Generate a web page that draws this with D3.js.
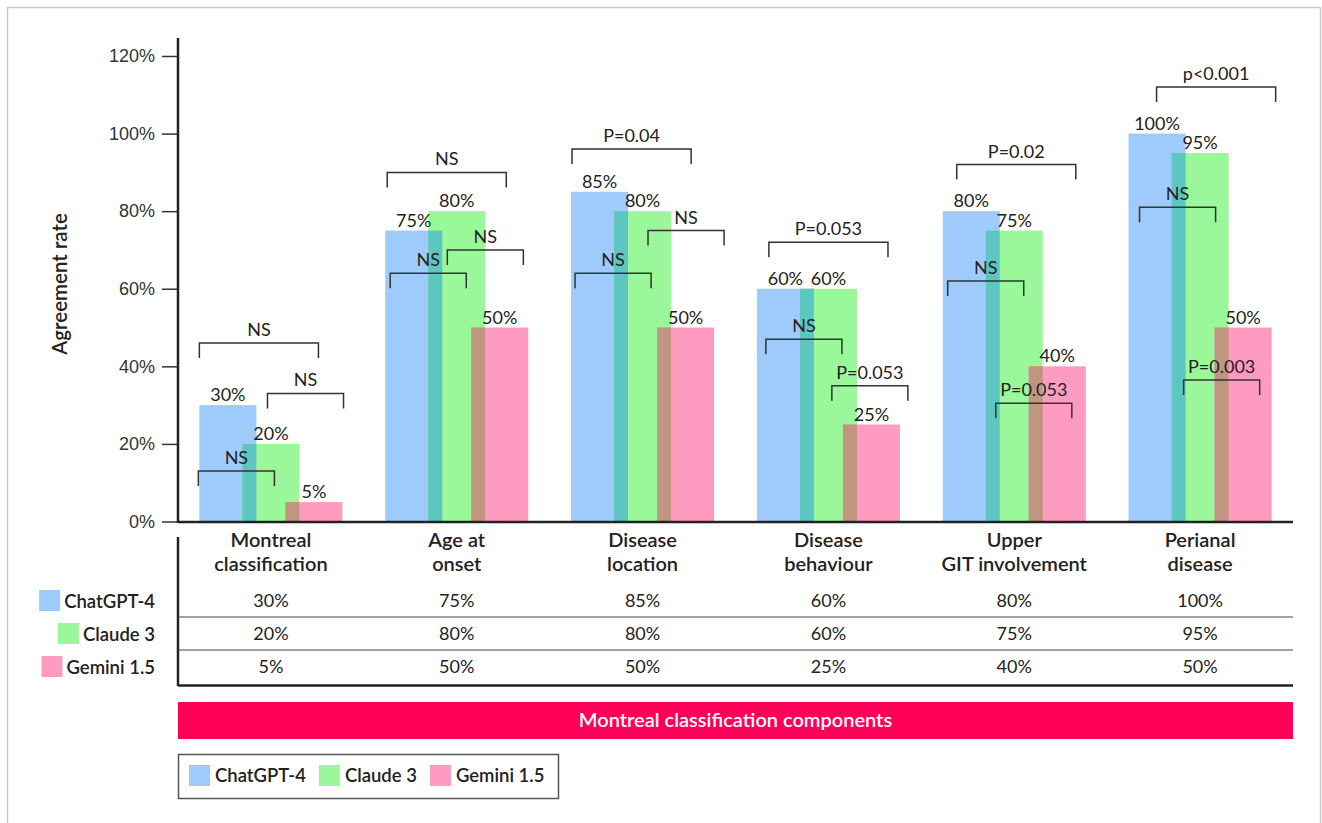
<!DOCTYPE html>
<html>
<head>
<meta charset="utf-8">
<script src="https://cdn.jsdelivr.net/npm/d3@7"></script>
<style>
  body { margin: 0; background: #fff; }
  svg { font-family: "Source Sans Pro", Lato, "Noto Sans", sans-serif; }
</style>
</head>
<body>
<script>
// chart data
const categories = [
  ['Montreal', 'classification'],
  ['Age at', 'onset'],
  ['Disease', 'location'],
  ['Disease', 'behaviour'],
  ['Upper', 'GIT involvement'],
  ['Perianal', 'disease']
];
const models = ['ChatGPT-4', 'Claude 3', 'Gemini 1.5'];
const chatgpt = [30, 75, 85, 60, 80, 100];
const claude = [20, 80, 80, 60, 75, 95];
const gemini = [5, 50, 50, 25, 40, 50];
const yTicks = [0, 20, 40, 60, 80, 100, 120];

// significance tests per component
const testGptGemini = ['NS', 'NS', 'P=0.04', 'P=0.053', 'P=0.02', 'p<0.001'];
const testGptClaude = ['NS', 'NS', 'NS', 'NS', 'NS', 'NS'];
const testClaudeGemini = ['NS', 'NS', 'NS', 'P=0.053', 'P=0.053', 'P=0.003'];
// bracket heights, in agreement-rate units
const levelGptGemini = [46, 90, 96, 72, 92, 112];
const levelGptClaude = [13, 64, 64, 47, 62, 81];
const levelClaudeGemini = [33, 70, 75, 35, 30.5, 36.5];
// where each bracket starts inside its group (0 = group left, 1 = group right)
const startGptGemini = [0, 0.014, 0.007, 0.084, 0.098, 0.196];
const startGptClaude = [-0.007, 0.035, 0.028, 0.063, 0.035, 0.077];
const startClaudeGemini = [0.476, 0.434, 0.538, 0.524, 0.371, 0.385];

const colors = ['#9ecbfb', '#9af79a', '#ff9bc0'];
const overlapColors = ['#5ec6c1', '#c09680'];
const ink = '#222';

const width = 1322;
const height = 823;
const left = 178;
const right = 1293;
const baseY = 522;
const topY = 56;

const svg = d3.select('body')
  .append('svg')
  .attr('width', width)
  .attr('height', height);

// outer frame
svg.append('rect')
  .attr('x', 7.5).attr('y', 7.5)
  .attr('width', 1313).attr('height', 830)
  .attr('fill', 'none')
  .attr('stroke', '#c8c8c8')
  .attr('stroke-width', 1.5);

const x = d3.scaleBand()
  .domain(d3.range(categories.length))
  .range([left, right])
  .padding(0);

const y = d3.scaleLinear()
  .domain([0, 120])
  .range([baseY - 0.5, topY]);

const groupW = x.bandwidth() * 0.77;
const barW = groupW * 57 / 143;
const barStep = (groupW - barW) / 2;
const groupLeft = i => x(i) + x.bandwidth() / 2 - groupW / 2;
const barX = (i, s) => groupLeft(i) + s * barStep;

const values = [chatgpt, claude, gemini];

// y axis
const yAxis = svg.append('g')
  .attr('transform', `translate(${left},0)`)
  .call(d3.axisLeft(y)
    .tickValues(yTicks)
    .tickSize(16)
    .tickPadding(7)
    .tickFormat(d => d + '%'));
yAxis.select('.domain').remove();
yAxis.selectAll('.tick line').attr('stroke', '#333').attr('stroke-width', 1.5);
yAxis.selectAll('.tick text')
  .attr('font-size', 18)
  .attr('font-family', null)
  .attr('fill', '#333');

svg.append('line')
  .attr('x1', left).attr('x2', left)
  .attr('y1', 38).attr('y2', baseY + 1)
  .attr('stroke', ink).attr('stroke-width', 2.5);

svg.append('text')
  .attr('transform', `translate(67,284) rotate(-90)`)
  .attr('text-anchor', 'middle')
  .attr('font-size', 20.5)
  .attr('font-weight', 600)
  .attr('fill', ink)
  .text('Agreement rate');

// bars
values.forEach((vals, s) => {
  svg.append('g')
    .selectAll('rect')
    .data(vals)
    .join('rect')
    .attr('x', (d, i) => barX(i, s))
    .attr('y', d => y(d))
    .attr('width', barW)
    .attr('height', d => y(0) - y(d))
    .attr('fill', colors[s]);
});

// overlapping strips between neighbouring bars
[0, 1].forEach(s => {
  svg.append('g')
    .selectAll('rect')
    .data(categories.map((c, i) => Math.min(values[s][i], values[s + 1][i])))
    .join('rect')
    .attr('x', (d, i) => barX(i, s + 1))
    .attr('y', d => y(d))
    .attr('width', barW - barStep)
    .attr('height', d => y(0) - y(d))
    .attr('fill', overlapColors[s]);
});

// value labels
values.forEach((vals, s) => {
  svg.append('g')
    .selectAll('text')
    .data(vals)
    .join('text')
    .attr('x', (d, i) => barX(i, s) + barW / 2)
    .attr('y', d => y(d) - 4)
    .attr('text-anchor', 'middle')
    .attr('font-size', 18)
    .attr('fill', ink)
    .text(d => d + '%');
});

// x axis line
svg.append('line')
  .attr('x1', left).attr('x2', right)
  .attr('y1', baseY).attr('y2', baseY)
  .attr('stroke', ink).attr('stroke-width', 2.5);

// significance brackets
const pairs = [
  { labels: testGptGemini, levels: levelGptGemini, starts: startGptGemini, span: 119 / 143 },
  { labels: testGptClaude, levels: levelGptClaude, starts: startGptClaude, span: 76 / 143 },
  { labels: testClaudeGemini, levels: levelClaudeGemini, starts: startClaudeGemini, span: 76 / 143 }
];
pairs.forEach(p => {
  categories.forEach((c, i) => {
    const local = d3.scaleLinear().domain([0, 1]).range([groupLeft(i), groupLeft(i) + groupW]);
    const x0 = local(p.starts[i]);
    const x1 = local(p.starts[i] + p.span);
    const yy = y(p.levels[i]);
    svg.append('path')
      .attr('d', `M${x0},${yy + 15}V${yy}H${x1}V${yy + 15}`)
      .attr('fill', 'none')
      .attr('stroke', '#333')
      .attr('stroke-width', 1.5);
    svg.append('text')
      .attr('x', (x0 + x1) / 2)
      .attr('y', yy - 7)
      .attr('text-anchor', 'middle')
      .attr('font-size', 18)
      .attr('fill', ink)
      .text(p.labels[i]);
  });
});

// table under the chart
const catText = svg.append('g')
  .selectAll('text')
  .data(categories)
  .join('text')
  .attr('x', (d, i) => x(i) + x.bandwidth() / 2)
  .attr('text-anchor', 'middle')
  .attr('font-size', 20)
  .attr('font-weight', 600)
  .attr('fill', ink);
catText.selectAll('tspan')
  .data(d => d)
  .join('tspan')
  .attr('x', function () { return this.parentNode.getAttribute('x'); })
  .attr('y', (d, k) => 547 + k * 24)
  .text(d => d);

const rowY = [601, 634, 667];
values.forEach((vals, s) => {
  svg.append('g')
    .selectAll('text')
    .data(vals)
    .join('text')
    .attr('x', (d, i) => x(i) + x.bandwidth() / 2)
    .attr('y', rowY[s] + 6)
    .attr('text-anchor', 'middle')
    .attr('font-size', 18)
    .attr('fill', ink)
    .text(d => d + '%');
});

svg.append('line')
  .attr('x1', left).attr('x2', left)
  .attr('y1', 537).attr('y2', 686)
  .attr('stroke', ink).attr('stroke-width', 2.5);
[617, 650].forEach(ly => {
  svg.append('line')
    .attr('x1', left).attr('x2', right)
    .attr('y1', ly).attr('y2', ly)
    .attr('stroke', '#444').attr('stroke-width', 1.2);
});
svg.append('line')
  .attr('x1', left).attr('x2', right)
  .attr('y1', 685.5).attr('y2', 685.5)
  .attr('stroke', ink).attr('stroke-width', 2.5);

// row keys on the left of the table
const keyRight = 155;
const keyG = svg.append('g');
models.forEach((m, s) => {
  const t = keyG.append('text')
    .attr('x', keyRight)
    .attr('y', rowY[s] + 6.5)
    .attr('text-anchor', 'end')
    .attr('font-size', 18.5)
    .attr('font-weight', 600)
    .attr('fill', ink)
    .text(m);
  const w = t.node().getComputedTextLength();
  keyG.append('rect')
    .attr('x', keyRight - w - 25)
    .attr('y', rowY[s] - 11)
    .attr('width', 21).attr('height', 21)
    .attr('fill', colors[s]);
});

// category band
svg.append('rect')
  .attr('x', left).attr('y', 702)
  .attr('width', right - left).attr('height', 37)
  .attr('fill', '#ff0058');
svg.append('text')
  .attr('x', (left + right) / 2)
  .attr('y', 727)
  .attr('text-anchor', 'middle')
  .attr('font-size', 20)
  .attr('font-weight', 600)
  .attr('fill', '#fff')
  .text('Montreal classification components');

// legend
const legend = svg.append('g');
legend.append('rect')
  .attr('x', 178.5).attr('y', 754.5)
  .attr('width', 380).attr('height', 44)
  .attr('fill', '#fff')
  .attr('stroke', '#555')
  .attr('stroke-width', 1.5);
let lx = 189;
models.forEach((m, s) => {
  legend.append('rect')
    .attr('x', lx).attr('y', 765)
    .attr('width', 21).attr('height', 21)
    .attr('fill', colors[s]);
  const t = legend.append('text')
    .attr('x', lx + 26)
    .attr('y', 782)
    .attr('font-size', 18.5)
    .attr('font-weight', 600)
    .attr('fill', ink)
    .text(m);
  lx += 26 + t.node().getComputedTextLength() + 13;
});
</script>
</body>
</html>
